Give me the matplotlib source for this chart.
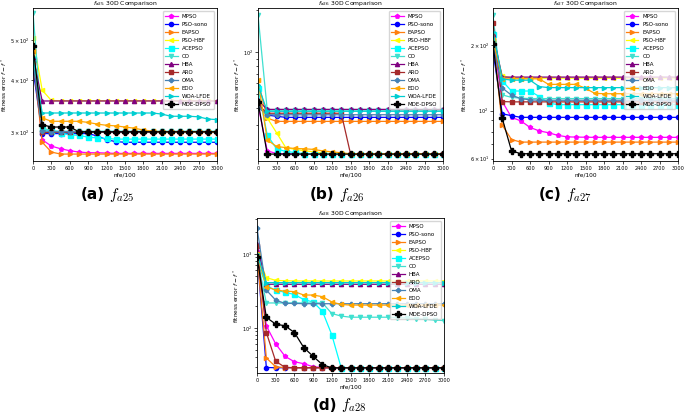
import matplotlib
matplotlib.use('agg')
import matplotlib.pyplot as plt
import numpy as np

# x grid (nfe/100), markers every 150
nfe = [0, 150, 300, 450, 600, 750, 900, 1050, 1200, 1350, 1500,
       1650, 1800, 1950, 2100, 2250, 2400, 2550, 2700, 2850, 3000]

methods = ['MPSO', 'PSO-sono', 'EAPSO', 'PSO-HBF', 'ACEPSO', 'CO', 'HBA',
           'ARO', 'OMA', 'EDO', 'WOA-LFDE', 'MDE-DPSO']

# ---- f_a25 ----
f25 = {
    'MPSO':     [470, 287, 277, 273, 270, 268, 267, 267, 266.5] + [266]*12,
    'PSO-sono': [425, 297, 297, 297, 297, 297, 297, 293, 287, 284, 283] + [283]*10,
    'EAPSO':    [455, 283, 268] + [265]*18,
    'PSO-HBF':  [505, 378, 357] + [356.5]*18,
    'ACEPSO':   [450, 305, 301, 298, 295, 294, 291, 290, 289, 288, 288] + [288]*10,
    'CO':       [582, 306, 302] + [301]*18,
    'HBA':      [455, 356] + [356]*19,
    'ARO':      [440, 299] + [299]*19,
    'OMA':      [445, 302, 300] + [300]*18,
    'EDO':      [470, 324, 318, 318, 318, 318, 316, 313, 311, 310, 308, 306, 303, 301] + [300]*7,
    'WOA-LFDE': [455] + [333]*13 + [331, 327, 327, 327, 326, 322, 321],
    'MDE-DPSO': [483, 312, 308, 308, 308, 300] + [300]*15,
}

# ---- f_a26 ----
f26 = {
    'MPSO':     [42, 19.5, 18.7] + [18.6]*18,
    'PSO-sono': [42, 35.3, 34.6] + [34.0]*18,
    'EAPSO':    [62, 33.6, 31.8] + [31.8]*18,
    'PSO-HBF':  [44, 33.6, 26.4, 20.6, 20.0, 19.6, 19.2, 18.9] + [18.6]*13,
    'ACEPSO':   [55, 25.4, 20.2, 19.3, 19.0] + [18.6]*16,
    'CO':       [186, 38.3] + [38.3]*19,
    'HBA':      [45, 38.8] + [38.8]*19,
    'ARO':      [42, 36.4] + [36.4]*8 + [18.6] + [18.6]*10,
    'OMA':      [40, 35.5] + [35.5]*19,
    'EDO':      [62.8, 23.4, 21, 20.6, 20.3, 20.2, 20.0, 19.5, 19.2, 18.9] + [18.6]*11,
    'WOA-LFDE': [58, 37.6] + [37.6]*19,
    'MDE-DPSO': [44, 18.5] + [18.5]*19,
}

# ---- f_a27 ----
f27 = {
    'MPSO':     [215, 110, 93, 89.6, 83.6, 80.5, 79, 76.8, 75.6, 75.4, 75.3] + [75.2]*10,
    'PSO-sono': [188, 96.5, 94.7] + [93]*18,
    'EAPSO':    [215, 85.6, 73.5] + [71.5]*18,
    'PSO-HBF':  [210, 145, 141] + [141]*18,
    'ACEPSO':   [225, 137, 123, 123, 123, 116, 108.3] + [106.4]*14,
    'CO':       [275, 118, 115, 114] + [113.5]*17,
    'HBA':      [225, 142.6] + [142.6]*19,
    'ARO':      [254, 110] + [109.6]*19,
    'OMA':      [200, 127, 117.7, 113.5, 112, 111.5] + [111.5]*15,
    'EDO':      [212, 140, 140, 140, 140, 140, 132, 132, 132, 132, 126.5, 120] + [119.5]*9,
    'WOA-LFDE': [230, 140, 138, 138, 138, 129] + [127.5]*15,
    'MDE-DPSO': [202, 92, 65.2] + [63.2]*18,
}

# ---- f_a28 ----
f28 = {
    'MPSO':     [1100, 107, 61, 41.5, 35, 33, 30, 29.3] + [29.1]*13,
    'PSO-sono': [1000, 29.3, 29.1] + [29.1]*18,
    'EAPSO':    [1000, 39.4, 30, 29.2] + [29.1]*17,
    'PSO-HBF':  [1000, 479, 440, 435] + [432]*17,
    'ACEPSO':   [800, 370, 325, 303, 284, 242, 225, 168, 81, 29.1] + [29.1]*11,
    'CO':       [900] + [218]*7 + [157, 145] + [140]*5 + [138, 137, 134, 131, 128, 126],
    'HBA':      [1350, 390] + [390]*19,
    'ARO':      [1300, 87, 35.5, 29.5] + [29.1]*17,
    'OMA':      [2265, 325, 238, 215, 215] + [213]*16,
    'EDO':      [990, 362, 325, 315, 310, 279, 279, 265, 225, 208] + [204]*11,
    'WOA-LFDE': [1000, 410] + [410]*19,
    'MDE-DPSO': [920, 139, 113, 107, 87, 54.5, 41.5, 32, 29] + [29]*12,
}

colors = {'MPSO': '#FF00FF', 'PSO-sono': '#0000FF', 'EAPSO': '#FF7F0E',
          'PSO-HBF': '#FFFF00', 'ACEPSO': '#00FFFF', 'CO': '#40E0D0',
          'HBA': '#800080', 'ARO': '#A52A2A', 'OMA': '#4682B4',
          'EDO': '#FFA500', 'WOA-LFDE': '#00CED1', 'MDE-DPSO': 'black'}
markers = {'MPSO': 'p', 'PSO-sono': 'o', 'EAPSO': '>', 'PSO-HBF': '<',
           'ACEPSO': 's', 'CO': 'v', 'HBA': '^', 'ARO': 's', 'OMA': 'P',
           'EDO': '<', 'WOA-LFDE': '>', 'MDE-DPSO': 'P'}
msizes = {'ACEPSO': 3.6, 'MDE-DPSO': 4.0, 'ARO': 2.6}

W, H = 685, 418
fig = plt.figure(figsize=(W/100, H/100), dpi=100)

panels = [
    (f25, 'a25', [33, 8, 217, 161], (255, 597), (113, 195), '(a)'),
    (f26, 'a26', [258, 8, 443, 161], (16.5, 208), (343, 195), '(b)'),
    (f27, 'a27', [493, 8, 678, 161], (58.5, 297), (570, 195), '(c)'),
    (f28, 'a28', [257, 218, 444, 373], (24.7, 3060), (345, 405), '(d)'),
]

for data, tag, box, ylim, cap, letter in panels:
    l, t, r, b = box
    ax = fig.add_axes([l/W, 1 - b/H, (r - l)/W, (b - t)/H])
    for m in methods:
        ax.plot(nfe, data[m], color=colors[m], marker=markers[m],
                markersize=msizes.get(m, 3), linewidth=0.9, label=m)
    ax.set_yscale('log')
    ax.set_xlim(0, 3000)
    ax.set_ylim(*ylim)
    ax.set_xticks(range(0, 3001, 300))
    ax.tick_params(which='both', labelsize=3.6, length=2, width=0.5, pad=1.5)
    ax.tick_params(which='minor', length=1.2)
    for s in ax.spines.values():
        s.set_linewidth(0.6)
    ax.set_title(r'$f_{%s}$ 30D Comparison' % tag, fontsize=4.4, pad=0.8)
    ax.set_xlabel('nfe/100', fontsize=4.2, labelpad=1.5)
    ax.set_ylabel(r'fitness error $f - f^*$', fontsize=4.2, labelpad=0.8)
    ax.legend(loc='upper right', fontsize=4, borderaxespad=0.6,
              labelspacing=0.55, handlelength=2.2)
    fig.text(cap[0]/W - 0.012, 1 - cap[1]/H, letter, fontsize=11,
             fontweight='bold', ha='right', va='center')
    fig.text(cap[0]/W - 0.006, 1 - cap[1]/H, r'$f_{%s}$' % tag, fontsize=11,
             ha='left', va='center', math_fontfamily='cm')

fig.savefig('out.png', dpi=100)
